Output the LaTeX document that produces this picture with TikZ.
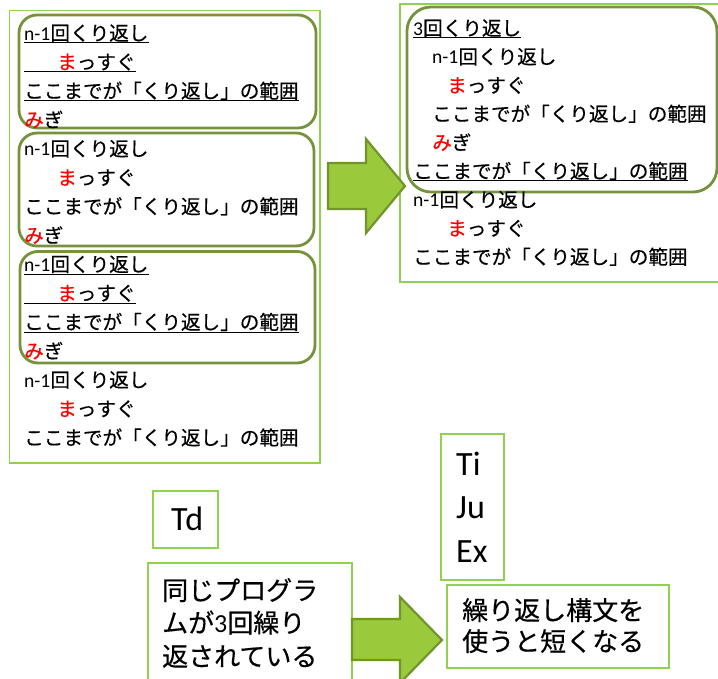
\documentclass[tikz,border=0pt]{standalone}
\usepackage{fontspec}
\setmainfont{Carlito}
\newfontfamily\cjk{Noto Sans CJK JP}[FakeBold=0.4]
\usetikzlibrary{calc}
\definecolor{boxgreen}{RGB}{146,208,80}
\definecolor{olivegreen}{RGB}{118,146,60}
\definecolor{arrowfill}{RGB}{154,202,60}
\definecolor{arrowline}{RGB}{113,148,45}
\newcommand\Rd[1]{\textcolor{red}{#1}}
\newcommand\lnA{n-1{\cjk 回くり返し}}
\newcommand\lnB{{\cjk\Rd{ま}っすぐ}}
\newcommand\lnC{{\cjk ここまでが「くり返し」の範囲}}
\newcommand\lnD{{\cjk\Rd{み}ぎ}}
\tikzset{
  frame/.style={draw=boxgreen, line width=1.6pt},
  group/.style={draw=olivegreen, line width=2.8pt},
  ln/.style={anchor=base west, inner sep=0pt, font=\fontsize{19.6}{24}\selectfont},
  big/.style={anchor=base west, inner sep=0pt, font=\fontsize{34}{40}\selectfont},
  jp/.style={anchor=base west, inner sep=0pt, font=\fontsize{26}{30}\cjk},
  ul/.style={line width=1pt},
  bigarrow/.style={fill=arrowfill, draw=arrowline, line width=2.2pt, line join=miter},
}
\begin{document}
\begin{tikzpicture}[x=1pt,y=-1pt]
\useasboundingbox (0,0) rectangle (718,679);
\fill[white] (0,0) rectangle (718,679);

% ---------- left block ----------
\draw[frame] (9.5,10.7) rectangle (320,463);
\draw[group, rounded corners=18pt] (19,15) rectangle (316,128);
\draw[group, rounded corners=18pt] (19,133) rectangle (314,246);
\draw[group, rounded corners=18pt] (20,251.5) rectangle (315,363);

\node[ln] (l1)  at (24,40.4)  {\lnA};
\node[ln] (l2)  at (24,69.3)  {\hspace*{33pt}\lnB};
\node[ln] (l3)  at (24,98.2)  {\lnC};
\node[ln] (l4)  at (24,127.1) {\lnD};
\node[ln] (l5)  at (24,156.0) {\lnA};
\node[ln] (l6)  at (24,184.9) {\hspace*{33pt}\lnB};
\node[ln] (l7)  at (24,213.8) {\lnC};
\node[ln] (l8)  at (24,242.7) {\lnD};
\node[ln] (l9)  at (24,271.6) {\lnA};
\node[ln] (l10) at (24,300.5) {\hspace*{33pt}\lnB};
\node[ln] (l11) at (24,329.4) {\lnC};
\node[ln] (l12) at (24,358.3) {\lnD};
\node[ln] (l13) at (24,387.2) {\lnA};
\node[ln] (l14) at (24,416.1) {\hspace*{33pt}\lnB};
\node[ln] (l15) at (24,445.0) {\lnC};

\foreach \n in {l1,l2,l3,l9,l10,l11}
  \draw[ul] ($(\n.base west)+(0,2.6)$) -- ($(\n.base east)+(0,2.6)$);

% ---------- right block ----------
\draw[frame] (400,4) rectangle (722,282);
\draw[group, rounded corners=24pt] (407,7) rectangle (717,192);

\node[ln] (r1) at (413,35.4)  {3{\cjk 回くり返し}};
\node[ln] (r2) at (432,64.0)  {\lnA};
\node[ln] (r3) at (447,92.6)  {\lnB};
\node[ln] (r4) at (432,121.2) {\lnC};
\node[ln] (r5) at (432,149.8) {\lnD};
\node[ln] (r6) at (413,178.4) {\lnC};
\node[ln] (r7) at (413,207.0) {\lnA};
\node[ln] (r8) at (447,235.6) {\lnB};
\node[ln] (r9) at (413,264.2) {\lnC};

\foreach \n in {r1,r6}
  \draw[ul] ($(\n.base west)+(0,2.6)$) -- ($(\n.base east)+(0,2.6)$);

% ---------- arrow 1 ----------
\draw[bigarrow] (328,163) -- (366,163) -- (366,139) -- (405,186)
  -- (366,233) -- (366,209) -- (328,209) -- cycle;

% ---------- bottom ----------
\draw[frame] (152.7,491) rectangle (218,548);
\node[big] (td) at (171,530.7) {Td};

\draw[frame] (441,434) rectangle (504,580);
\node[big] (ti) at (456,475) {Ti};
\node[big] (ju) at (456,518.5) {Ju};
\node[big] (ex) at (456,562) {Ex};

\draw[frame] (148,563) rectangle (352,700);
\node[jp] (s1) at (162,600) {同じプログラ};
\node[jp] (s2) at (162,632.5) {ムが{\fontspec{Carlito}3}回繰り};
\node[jp] (s3) at (162,666) {返されている};

\draw[frame] (447,585) rectangle (669,668);
\node[jp] (t1) at (462,620) {繰り返し構文を};
\node[jp] (t2) at (462,651) {使うと短くなる};

% ---------- arrow 2 ----------
\draw[bigarrow] (352,619) -- (400,619) -- (400,597) -- (442,640)
  -- (400,683) -- (400,660) -- (352,660) -- cycle;
\end{tikzpicture}
\end{document}
